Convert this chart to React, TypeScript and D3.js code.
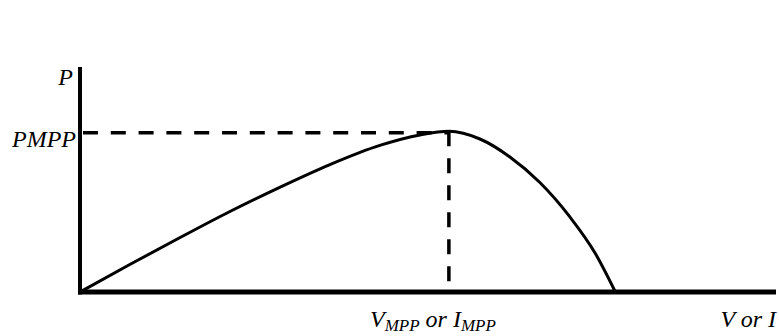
import React from "react";
import * as d3 from "d3";

// Power versus voltage (or current) curve of a PV source, in % of Voc and % of PMPP
const voltage = [0, 9.3, 18.7, 28, 37.4, 46.7, 56, 63.5, 68.9, 74.7, 80.3, 85.9, 91.5, 96.2, 100];
const power = [0, 17.1, 33.9, 50.1, 65.3, 79.3, 91.2, 97.7, 100, 95.2, 84, 68.1, 46.7, 24.3, 0];
const mppIndex = 8;

const axisLabelY = "P";
const mppLabelY = "PMPP";
const axisLabelX = "V or I";

const W = 779;
const H = 336;

const textStyle: React.CSSProperties = {
  fontFamily: '"Liberation Serif", "Times New Roman", serif',
  fontStyle: "italic",
};

export default function App() {
  const x = d3.scaleLinear().domain([0, 130]).range([80, 776]);
  const y = d3.scaleLinear().domain([0, 140]).range([292, 67]);

  const pts: [number, number][] = voltage.map((v, i) => [v, power[i]]);
  const line = d3
    .line<[number, number]>()
    .x((d) => x(d[0]))
    .y((d) => y(d[1]))
    .curve(d3.curveMonotoneX);

  const vm = voltage[mppIndex];
  const pm = power[mppIndex];

  return (
    <svg
      width={W}
      height={H}
      style={{ position: "absolute", left: 0, top: 0, background: "#fff" }}
    >
      {/* MPP guide lines */}
      <line
        x1={x(0) + 3}
        x2={x(vm)}
        y1={y(pm) + 1.5}
        y2={y(pm) + 1.5}
        stroke="#000"
        strokeWidth={3.5}
        strokeDasharray="15 12.8"
      />
      <line
        x1={x(vm)}
        x2={x(vm)}
        y1={y(pm)}
        y2={y(0)}
        stroke="#000"
        strokeWidth={3.5}
        strokeDasharray="15 12"
      />
      {/* P-V curve */}
      <path d={line(pts) ?? ""} fill="none" stroke="#000" strokeWidth={3} />
      {/* axes */}
      <line x1={x(0)} x2={x(0)} y1={y(140)} y2={y(0) + 2.5} stroke="#000" strokeWidth={4} />
      <line x1={x(0) - 2} x2={x(130)} y1={y(0)} y2={y(0)} stroke="#000" strokeWidth={5} />
      {/* labels */}
      <text x={73} y={85} fontSize={24} textAnchor="end" style={textStyle}>
        {axisLabelY}
      </text>
      <text x={76} y={147} fontSize={24} textAnchor="end" style={textStyle}>
        {mppLabelY}
      </text>
      <text x={370} y={327} fontSize={24} style={textStyle}>
        <tspan>V</tspan>
        <tspan fontSize={17} dy={3.5}>MPP</tspan>
        <tspan dy={-3.5}> or I</tspan>
        <tspan fontSize={17} dy={3.5}>MPP</tspan>
      </text>
      <text x={776} y={327} fontSize={24} textAnchor="end" style={textStyle}>
        {axisLabelX}
      </text>
    </svg>
  );
}
